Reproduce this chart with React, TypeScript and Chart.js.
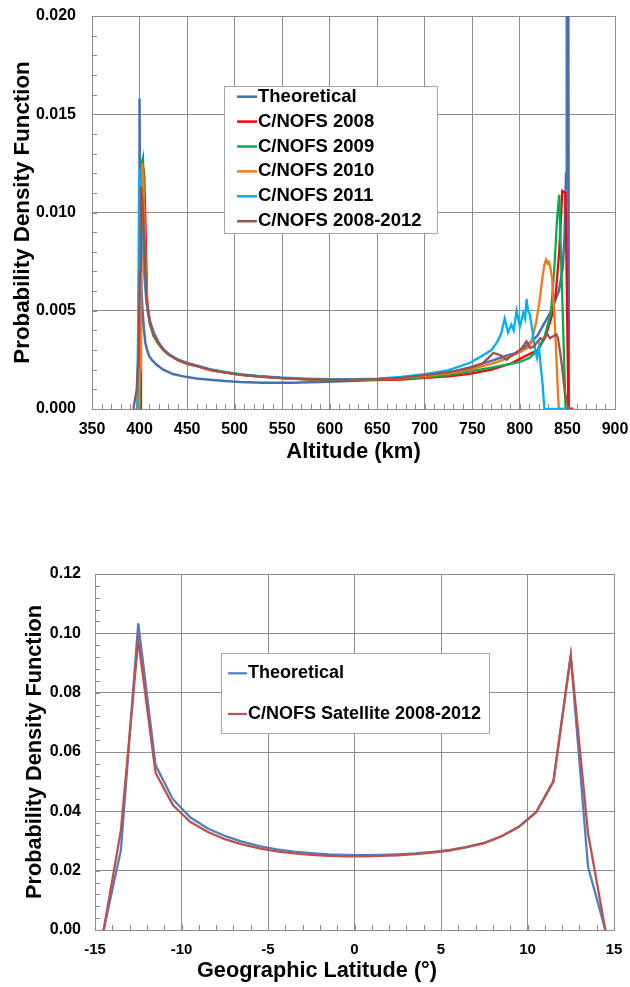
import React, { useEffect, useRef } from "react";
import { Chart, registerables } from "chart.js";

Chart.register(...registerables);

const FONT = "'Liberation Sans', Arial, Helvetica, sans-serif";

// ================= Chart 1: Altitude PDF =================
const seriesNames1 = [
  "Theoretical",
  "C/NOFS 2008",
  "C/NOFS 2009",
  "C/NOFS 2010",
  "C/NOFS 2011",
  "C/NOFS 2008-2012",
];
const seriesColors1 = ["#4670B0", "#FF0000", "#00B050", "#EE7A1C", "#00B0F0", "#A0504C"];

const xTicks1 = { min: 350, max: 900, step: 50 };
const yTicks1 = { min: 0, max: 0.02, step: 0.005 };

const theoAlt = [398, 399.5, 400, 400.5, 401, 402, 403, 404.5, 406, 408, 410, 413, 418, 425, 435, 446, 460, 474, 490, 506, 530, 560, 590, 620, 650, 680, 700, 725, 747, 770, 785, 800, 818, 832, 841, 845, 847, 848.5, 849.3, 850.5, 851.5];
const theoPdf = [0, 0, 0.0158, 0.0100, 0.0078, 0.0060, 0.0051, 0.0041, 0.0034, 0.0030, 0.0027, 0.0025, 0.00225, 0.0020, 0.00178, 0.00166, 0.00155, 0.00149, 0.00142, 0.00137, 0.00134, 0.00133, 0.00137, 0.00143, 0.0015, 0.0016, 0.00168, 0.00183, 0.00212, 0.00245, 0.0027, 0.0029, 0.0037, 0.0049, 0.0060, 0.0072, 0.0088, 0.0120, 0.0350, 0.0350, 0];

// common mid-range altitude grid for observed series
const midAlt = [411, 415, 420, 425, 430, 440, 450, 460, 474, 490, 506, 525, 548, 575, 600, 625, 650, 675, 700, 725, 747];
const mid2008 = [0.0043, 0.0037, 0.0033, 0.0030, 0.0028, 0.0025, 0.0023, 0.00218, 0.00198, 0.00185, 0.00174, 0.00165, 0.00157, 0.00151, 0.00147, 0.00146, 0.00147, 0.0015, 0.00158, 0.00166, 0.00179];
const mid2009 = [0.0043, 0.0037, 0.0033, 0.0030, 0.0028, 0.0025, 0.00232, 0.0022, 0.0020, 0.00186, 0.00175, 0.00166, 0.00158, 0.00151, 0.00148, 0.00148, 0.0015, 0.00155, 0.00162, 0.00173, 0.00191];
const mid2010 = [0.0044, 0.0038, 0.00335, 0.00302, 0.0028, 0.0025, 0.00232, 0.0022, 0.0020, 0.00186, 0.00175, 0.00166, 0.00158, 0.00152, 0.00149, 0.00149, 0.00151, 0.00157, 0.00168, 0.00181, 0.0020];
const mid2011 = [0.0045, 0.0039, 0.0034, 0.00305, 0.00283, 0.00253, 0.00235, 0.00222, 0.00203, 0.00189, 0.00178, 0.00169, 0.00161, 0.00155, 0.00152, 0.00152, 0.00155, 0.00163, 0.00178, 0.00198, 0.00234];
const mid0812 = [0.0044, 0.0038, 0.00335, 0.00302, 0.0028, 0.0025, 0.00232, 0.0022, 0.0020, 0.00186, 0.00175, 0.00166, 0.00158, 0.00152, 0.00149, 0.00149, 0.00152, 0.00158, 0.00172, 0.00188, 0.00208];

// perigee (left) parts
const left2008Alt = [396, 400.5, 401.5, 402.5, 404, 405, 406.5, 408];
const left2008Pdf = [0, 0, 0.006, 0.0115, 0.0123, 0.0118, 0.0088, 0.0055];
const left2009Alt = [396, 400, 401, 402, 403.6, 404.5, 406, 408];
const left2009Pdf = [0, 0, 0.007, 0.0125, 0.0128, 0.0110, 0.0080, 0.0052];
const left2010Alt = [396, 399.5, 400.5, 401.5, 402.6, 404, 406, 408];
const left2010Pdf = [0, 0, 0.002, 0.009, 0.0125, 0.0118, 0.0078, 0.0053];
const left2011Alt = [396, 397.5, 398.5, 399.5, 400.3, 401.5, 403, 405, 407, 409];
const left2011Pdf = [0, 0, 0.004, 0.0115, 0.0122, 0.0110, 0.0092, 0.0068, 0.0055, 0.0049];
const left0812Alt = [393.5, 397, 399, 400.5, 401.5, 403, 405, 407, 409];
const left0812Pdf = [0, 0.001, 0.003, 0.007, 0.0113, 0.0106, 0.0085, 0.0058, 0.0049];

// apogee (right) parts
const right2008Alt = [770, 790, 800, 810, 819, 827, 834, 838, 841, 843, 844.5, 848, 851, 856];
const right2008Pdf = [0.0020, 0.0023, 0.00255, 0.0028, 0.0030, 0.0037, 0.0048, 0.0060, 0.0078, 0.0095, 0.0111, 0.0110, 0, 0];
const right2009Alt = [770, 790, 800, 810, 818.6, 826, 832.6, 836, 839, 841.3, 848, 856];
const right2009Pdf = [0.0021, 0.0023, 0.0024, 0.0026, 0.0030, 0.0037, 0.0049, 0.0070, 0.0096, 0.0109, 0, 0];
const right2010Alt = [770, 782, 800, 808, 812, 817, 821, 824, 826, 827.5, 829, 830.5, 832, 834, 836, 838, 840, 841, 856];
const right2010Pdf = [0.0023, 0.0025, 0.0029, 0.0031, 0.0034, 0.0044, 0.0056, 0.0068, 0.0074, 0.0076, 0.0074, 0.0075, 0.0072, 0.0066, 0.0050, 0.0030, 0.0008, 0, 0];
const right2011Alt = [760, 770, 776, 780, 784, 787.5, 791, 793.5, 796.5, 800, 803.5, 805.5, 807, 808.5, 810, 812.5, 814.5, 816, 818, 820, 822, 824, 825.7, 850];
const right2011Pdf = [0.0027, 0.0030, 0.0034, 0.0038, 0.0046, 0.0039, 0.0043, 0.0040, 0.0050, 0.0042, 0.0049, 0.0046, 0.0056, 0.0050, 0.0049, 0.0042, 0.0035, 0.0030, 0.0026, 0.0032, 0.0021, 0.0012, 0, 0];
const right0812Alt = [760, 767, 772, 776, 780, 786, 791, 797, 802, 807, 811, 815, 818, 821.5, 825, 828.4, 831.5, 835, 838.5, 840, 842, 844.2, 847.4, 851, 856];
const right0812Pdf = [0.0023, 0.0026, 0.00285, 0.0028, 0.00272, 0.0025, 0.0027, 0.0029, 0.0031, 0.00344, 0.0031, 0.0032, 0.0034, 0.0036, 0.0035, 0.00386, 0.0036, 0.0037, 0.0038, 0.0036, 0.0030, 0.0022, 0.0008, 0, 0];

// ================= Chart 2: Latitude PDF =================
const seriesNames2 = ["Theoretical", "C/NOFS Satellite 2008-2012"];
const seriesColors2 = ["#4F81BD", "#C0504D"];
const xTicks2 = { min: -15, max: 15, step: 5 };
const yTicks2 = { min: 0, max: 0.12, step: 0.02 };

const latitudes = [-14.5, -13.5, -12.5, -11.5, -10.5, -9.5, -8.5, -7.5, -6.5, -5.5, -4.5, -3.5, -2.5, -1.5, -0.5, 0.5, 1.5, 2.5, 3.5, 4.5, 5.5, 6.5, 7.5, 8.5, 9.5, 10.5, 11.5, 12.5, 13.5, 14.5];
const theoLat = [0, 0.027, 0.1034, 0.0556, 0.0441, 0.038, 0.0343, 0.0317, 0.0298, 0.0283, 0.0272, 0.0264, 0.0259, 0.0255, 0.0253, 0.0252, 0.0253, 0.0255, 0.0258, 0.0263, 0.027, 0.028, 0.0294, 0.0316, 0.0348, 0.0397, 0.05, 0.0925, 0.0213, 0];
const obsLat = [0, 0.0337, 0.0978, 0.053, 0.0421, 0.0365, 0.0331, 0.0306, 0.0289, 0.0275, 0.0265, 0.0258, 0.0253, 0.025, 0.0248, 0.0248, 0.025, 0.0252, 0.0256, 0.0261, 0.0268, 0.0279, 0.0293, 0.0316, 0.0348, 0.0397, 0.0502, 0.0925, 0.0326, 0];

// ================= helpers & plugins =================
function pts(xs: number[], ys: number[]) {
  return xs.map((x, i) => ({ x, y: ys[i] }));
}

const GRID = "#8c8c8c";

const minorTicks = {
  id: "minorTicks",
  beforeDatasetsDraw(chart: any, _args: any, o: any) {
    const { ctx, chartArea: a, scales } = chart;
    const xs = scales.x;
    const ys = scales.y;
    ctx.save();
    ctx.strokeStyle = GRID;
    ctx.lineWidth = 1;
    ctx.beginPath();
    const nx = Math.round((xs.max - xs.min) / o.xStep);
    for (let i = 1; i < nx; i++) {
      const px = Math.round(xs.getPixelForValue(xs.min + i * o.xStep)) + 0.5;
      ctx.moveTo(px, a.bottom);
      ctx.lineTo(px, a.bottom - o.len);
    }
    const ny = Math.round((ys.max - ys.min) / o.yStep);
    for (let i = 1; i < ny; i++) {
      const py = Math.round(ys.getPixelForValue(ys.min + i * o.yStep)) + 0.5;
      ctx.moveTo(a.left, py);
      ctx.lineTo(a.left + o.len, py);
    }
    ctx.stroke();
    ctx.restore();
  },
};

const boxLegend = {
  id: "boxLegend",
  afterDatasetsDraw(chart: any, _args: any, o: any) {
    const ctx = chart.ctx;
    ctx.save();
    ctx.fillStyle = "#ffffff";
    ctx.fillRect(o.x, o.y, o.w, o.h);
    ctx.strokeStyle = "#a6a6a6";
    ctx.lineWidth = 1;
    ctx.strokeRect(o.x + 0.5, o.y + 0.5, o.w, o.h);
    ctx.font = `bold ${o.fontSize}px ${FONT}`;
    ctx.textBaseline = "middle";
    ctx.textAlign = "left";
    chart.data.datasets.forEach((ds: any, i: number) => {
      const y = o.rowY[i];
      ctx.strokeStyle = ds.borderColor;
      ctx.lineWidth = o.sampleWidth;
      ctx.beginPath();
      ctx.moveTo(o.sx0, y);
      ctx.lineTo(o.sx1, y);
      ctx.stroke();
      ctx.fillStyle = "#000";
      ctx.fillText(ds.label, o.tx, y);
    });
    ctx.restore();
  },
};

// axis title placed freely (used where the title is not centred on the plot)
const freeTitle = {
  id: "freeTitle",
  afterDraw(chart: any, _args: any, o: any) {
    if (!o || !o.text) return;
    const ctx = chart.ctx;
    ctx.save();
    ctx.font = `bold ${o.fontSize}px ${FONT}`;
    ctx.fillStyle = "#000";
    ctx.textAlign = "center";
    ctx.textBaseline = "middle";
    ctx.fillText(o.text, o.x, o.y);
    ctx.restore();
  },
};

const noPad = (s: any) => {
  s.paddingTop = 0;
  s.paddingBottom = 0;
  s.paddingLeft = 0;
  s.paddingRight = 0;
};

function makeConfig1(): any {
  const xs = [
    theoAlt,
    [...left2008Alt, ...midAlt, ...right2008Alt],
    [...left2009Alt, ...midAlt, ...right2009Alt],
    [...left2010Alt, ...midAlt, ...right2010Alt],
    [...left2011Alt, ...midAlt, ...right2011Alt],
    [...left0812Alt, ...midAlt, ...right0812Alt],
  ];
  const ys = [
    theoPdf,
    [...left2008Pdf, ...mid2008, ...right2008Pdf],
    [...left2009Pdf, ...mid2009, ...right2009Pdf],
    [...left2010Pdf, ...mid2010, ...right2010Pdf],
    [...left2011Pdf, ...mid2011, ...right2011Pdf],
    [...left0812Pdf, ...mid0812, ...right0812Pdf],
  ];
  const n = seriesNames1.length;
  return {
    type: "line",
    data: {
      datasets: seriesNames1.map((label, i) => ({
        label,
        data: pts(xs[i], ys[i]),
        borderColor: seriesColors1[i],
        backgroundColor: seriesColors1[i],
        borderWidth: i === 0 ? 2.5 : 2.3,
        pointRadius: 0,
        tension: 0,
        fill: false,
        order: n - i,
      })),
    },
    options: {
      animation: false,
      responsive: false,
      layout: { padding: { left: 0, right: 15, top: 16, bottom: 0 } },
      plugins: {
        legend: { display: false },
        tooltip: { enabled: false },
        minorTicks: { xStep: 10, yStep: 0.001, len: 5 },
        boxLegend: {
          x: 224, y: 86, w: 213, h: 147,
          sx0: 237, sx1: 257, tx: 258, sampleWidth: 2.5, fontSize: 18.5,
          rowY: [96.7, 121.6, 146.5, 171.4, 196.3, 221.2],
        },
        freeTitle: {},
      },
      scales: {
        x: {
          type: "linear",
          min: xTicks1.min,
          max: xTicks1.max,
          afterFit: (s: any) => { s.height = 61; noPad(s); },
          ticks: {
            stepSize: xTicks1.step,
            color: "#000",
            font: { family: FONT, size: 16, weight: "bold" },
            padding: 11,
            maxRotation: 0,
            autoSkip: false,
          },
          grid: { color: GRID, drawTicks: false, lineWidth: 1 },
          border: { color: GRID },
          title: {
            display: true,
            text: "Altitude (km)",
            color: "#000",
            font: { family: FONT, size: 22, weight: "bold" },
            padding: { top: 0, bottom: 5 },
          },
        },
        y: {
          type: "linear",
          min: yTicks1.min,
          max: yTicks1.max,
          afterFit: (s: any) => { s.width = 92; noPad(s); },
          ticks: {
            stepSize: yTicks1.step,
            color: "#000",
            font: { family: FONT, size: 16, weight: "bold" },
            padding: 16,
            callback: (v: any) => Number(v).toFixed(3),
          },
          grid: { color: GRID, drawTicks: false, lineWidth: 1 },
          border: { color: GRID },
          title: {
            display: true,
            text: "Probability Density Function",
            color: "#000",
            font: { family: FONT, size: 22.3, weight: "bold" },
            padding: { top: 9, bottom: 0 },
          },
        },
      },
    },
    plugins: [minorTicks, boxLegend, freeTitle],
  };
}

function makeConfig2(): any {
  const ys = [theoLat, obsLat];
  const n = seriesNames2.length;
  return {
    type: "line",
    data: {
      datasets: seriesNames2.map((label, i) => ({
        label,
        data: pts(latitudes, ys[i]),
        borderColor: seriesColors2[i],
        backgroundColor: seriesColors2[i],
        borderWidth: 2.3,
        pointRadius: 0,
        tension: 0,
        fill: false,
        order: n - i,
      })),
    },
    options: {
      animation: false,
      responsive: false,
      layout: { padding: { left: 0, right: 16, top: 34, bottom: 0 } },
      plugins: {
        legend: { display: false },
        tooltip: { enabled: false },
        minorTicks: { xStep: 1, yStep: 0.004, len: 5 },
        boxLegend: {
          x: 221, y: 113, w: 268, h: 80,
          sx0: 228, sx1: 247, tx: 248, sampleWidth: 2.2, fontSize: 18,
          rowY: [133.3, 174],
        },
        freeTitle: { text: "Geographic Latitude (°)", x: 317, y: 431.5, fontSize: 21.7 },
      },
      scales: {
        x: {
          type: "linear",
          min: xTicks2.min,
          max: xTicks2.max,
          afterFit: (s: any) => { s.height = 57; noPad(s); },
          ticks: {
            stepSize: xTicks2.step,
            color: "#000",
            font: { family: FONT, size: 15, weight: "bold" },
            padding: 11,
            maxRotation: 0,
            autoSkip: false,
          },
          grid: { color: GRID, drawTicks: false, lineWidth: 1 },
          border: { color: GRID },
          title: { display: false },
        },
        y: {
          type: "linear",
          min: yTicks2.min,
          max: yTicks2.max,
          afterFit: (s: any) => { s.width = 95; noPad(s); },
          ticks: {
            stepSize: yTicks2.step,
            color: "#000",
            font: { family: FONT, size: 16, weight: "bold" },
            padding: 14,
            callback: (v: any) => Number(v).toFixed(2),
          },
          grid: { color: GRID, drawTicks: false, lineWidth: 1 },
          border: { color: GRID },
          title: {
            display: true,
            text: "Probability Density Function",
            color: "#000",
            font: { family: FONT, size: 21.7, weight: "bold" },
            padding: { top: 22, bottom: 0 },
          },
        },
      },
    },
    plugins: [minorTicks, boxLegend, freeTitle],
  };
}

function ChartCanvas(props: { make: () => any; top: number; width: number; height: number }) {
  const ref = useRef<HTMLCanvasElement | null>(null);
  useEffect(() => {
    if (!ref.current) return;
    const chart = new Chart(ref.current, props.make());
    return () => chart.destroy();
  }, []);
  return (
    <canvas
      ref={ref}
      width={props.width}
      height={props.height}
      style={{ position: "absolute", left: 0, top: props.top, width: props.width, height: props.height }}
    />
  );
}

export default function App() {
  return (
    <div style={{ position: "absolute", left: 0, top: 0, width: 630, height: 987, background: "#fff", overflow: "hidden" }}>
      <ChartCanvas make={makeConfig1} top={0} width={630} height={470} />
      <ChartCanvas make={makeConfig2} top={540} width={630} height={447} />
    </div>
  );
}
